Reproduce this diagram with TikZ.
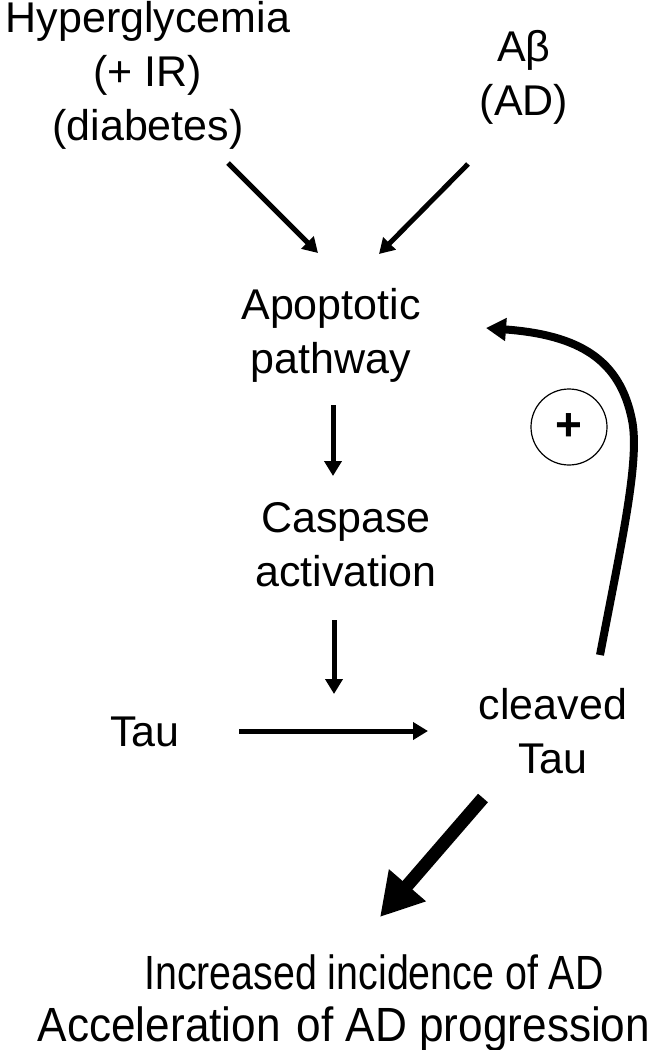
\documentclass[tikz,border=0pt]{standalone}
\usepackage{fontspec}
\setmainfont{Liberation Sans}
\usetikzlibrary{arrows.meta}
\begin{document}
\begin{tikzpicture}[x=1pt,y=-1pt,
  lbl/.style={font=\fontsize{43}{54}\selectfont, align=center, inner sep=0pt, anchor=base},
  thin/.style={line width=5pt, -{Triangle[length=15pt,width=17pt]}},
  fb/.style={line width=8pt, -{Triangle[length=20pt,width=22pt]}},
  fat/.style={line width=13pt, -{Triangle[length=42pt,width=46pt]}}]
\useasboundingbox (0,0) rectangle (657,1050);
\node[lbl] (hyp) at (148,140) {Hyperglycemia\\(+ IR)\\(diabetes)};
\node[lbl] (ab) at (524,115) {Aβ\\(AD)};
\node[lbl] (apo) at (331,373) {Apoptotic\\pathway};
\node[lbl] (cas) at (346,586) {Caspase\\activation};
\node[lbl] (tau) at (145,746) {Tau};
\node[lbl] (ctau) at (553,773) {cleaved\\Tau};
\node[lbl, font=\fontsize{48}{52}\selectfont] (out) at (344,1041)
  {\hspace*{60pt}\scalebox{0.82}[1]{Increased incidence of AD}\\
   \scalebox{0.92}[1]{Acceleration\hspace{4pt} of AD progression}};
\node[draw, circle, line width=1.2pt, minimum size=76pt, inner sep=0pt,
      font=\fontsize{46}{46}\selectfont\bfseries] (plus) at (569,427) {+};
\coordinate (h1) at (228,163); \coordinate (h2) at (318,253);
\coordinate (b1) at (468,164); \coordinate (b2) at (379,254);
\coordinate (v1) at (333,405); \coordinate (v2) at (333,476);
\coordinate (v3) at (334,620); \coordinate (v4) at (334,694);
\coordinate (t1) at (239,731); \coordinate (t2) at (428,731);
\coordinate (f1) at (600,655); \coordinate (fm) at (632,420); \coordinate (f2) at (486,328);
\coordinate (k1) at (483,798); \coordinate (k2) at (380,917);
\draw[thin] (h1) -- (h2);
\draw[thin] (b1) -- (b2);
\draw[thin] (v1) -- (v2);
\draw[thin] (v3) -- (v4);
\draw[thin] (t1) -- (t2);
\draw[fb] (f1) .. controls (622,540) and (640,460) .. (fm)
               .. controls (620,360) and (580,335) .. (f2);
\draw[fat] (k1) -- (k2);
\end{tikzpicture}
\end{document}
